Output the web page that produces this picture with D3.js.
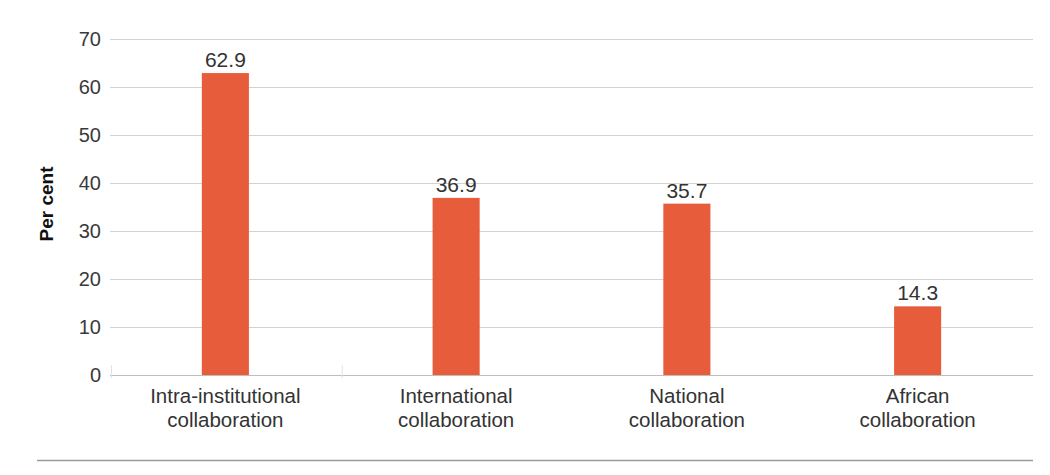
<!DOCTYPE html>
<html>
<head>
<meta charset="utf-8">
<script src="https://cdn.jsdelivr.net/npm/d3@7"></script>
<style>
  html, body { margin: 0; padding: 0; background: #ffffff; }
  svg { display: block; font-family: "Liberation Sans", Arial, sans-serif; }
</style>
</head>
<body>
<svg id="chart" width="1050" height="475"></svg>
<script>
// Share of papers by collaboration type
const categories = [
  ["Intra-institutional", "collaboration"],
  ["International", "collaboration"],
  ["National", "collaboration"],
  ["African", "collaboration"]
];
const values = [62.9, 36.9, 35.7, 14.3];
const yTicks = [0, 10, 20, 30, 40, 50, 60, 70];
const yTitle = "Per cent";

const svg = d3.select("#chart");
const plotLeft = 110, plotRight = 1033, plotTop = 39, plotBottom = 375;

const x = d3.scaleBand()
  .domain(d3.range(categories.length))
  .range([plotLeft, plotRight])
  .paddingInner(0.796)
  .paddingOuter(0.398);

const y = d3.scaleLinear().domain([0, 70]).range([plotBottom, plotTop]);

// Gridlines
svg.append("g")
  .selectAll("line")
  .data(yTicks)
  .join("line")
  .attr("x1", plotLeft)
  .attr("x2", plotRight)
  .attr("y1", d => y(d) + 0.5)
  .attr("y2", d => y(d) + 0.5)
  .attr("stroke", d => d === 0 ? "#bdbdbd" : "#d2d2d2")
  .attr("stroke-width", 1);

// Y axis labels
const yAxis = svg.append("g")
  .attr("transform", `translate(${plotLeft},0)`)
  .call(d3.axisLeft(y).tickValues(yTicks).tickSize(0).tickPadding(9));
yAxis.select(".domain").remove();
yAxis.selectAll("text")
  .attr("fill", "#3a3a3a")
  .attr("dy", "0.3em")
  .style("font-size", "20px")
  .style("font-family", "'Liberation Sans', Arial, sans-serif");

// Small separator ticks on the baseline
svg.append("g")
  .selectAll("line")
  .data([plotLeft, plotLeft + x.step()])
  .join("line")
  .attr("x1", d => d + 1.5)
  .attr("x2", d => d + 1.5)
  .attr("y1", plotBottom - 10)
  .attr("y2", plotBottom + 3)
  .attr("stroke", "#e2e2e2")
  .attr("stroke-width", 1);

// Bars
svg.append("g")
  .selectAll("rect")
  .data(values)
  .join("rect")
  .attr("x", (d, i) => x(i))
  .attr("width", x.bandwidth())
  .attr("y", d => y(d))
  .attr("height", d => y(0) - y(d))
  .attr("fill", "#e75c3a");

// Value labels
svg.append("g")
  .selectAll("text")
  .data(values)
  .join("text")
  .attr("x", (d, i) => x(i) + x.bandwidth() / 2)
  .attr("y", d => y(d) - 6)
  .attr("text-anchor", "middle")
  .attr("fill", "#333")
  .style("font-size", "21px")
  .text(d => d.toFixed(1));

// Category labels
const catG = svg.append("g")
  .selectAll("text")
  .data(categories)
  .join("text")
  .attr("x", (d, i) => x(i) + x.bandwidth() / 2)
  .attr("y", 403)
  .attr("text-anchor", "middle")
  .attr("fill", "#333")
  .style("font-size", "20.5px");
catG.selectAll("tspan")
  .data(d => d)
  .join("tspan")
  .attr("x", function() { return d3.select(this.parentNode).attr("x"); })
  .attr("dy", (d, i) => i === 0 ? 0 : 24)
  .text(d => d);

// Y axis title
svg.append("text")
  .attr("transform", "translate(53,204) rotate(-90)")
  .attr("text-anchor", "middle")
  .attr("fill", "#111")
  .style("font-size", "19px")
  .style("font-weight", "bold")
  .text(yTitle);

// Bottom rule
svg.append("line")
  .attr("x1", 37)
  .attr("x2", plotRight)
  .attr("y1", 460.5)
  .attr("y2", 460.5)
  .attr("stroke", "#9a9a9a")
  .attr("stroke-width", 1.5);
</script>
</body>
</html>
